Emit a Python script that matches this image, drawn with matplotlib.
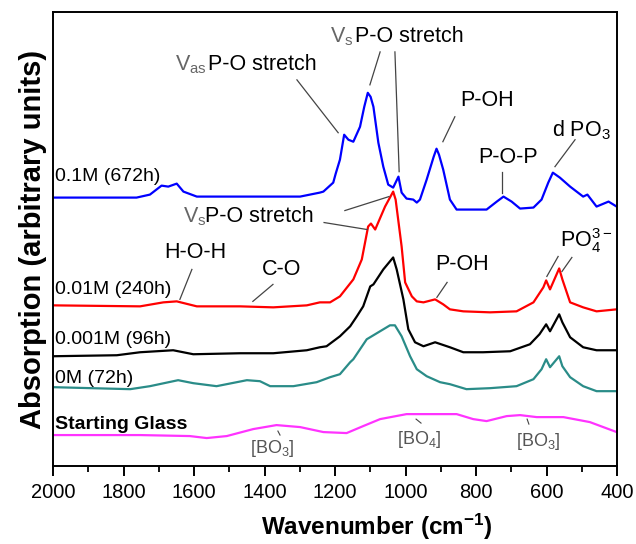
import numpy as np
import matplotlib
matplotlib.use('Agg')
import matplotlib.pyplot as plt
from matplotlib.ticker import MultipleLocator

plt.rcParams['font.family'] = ['Liberation Sans', 'DejaVu Sans']
plt.rcParams['mathtext.fontset'] = 'custom'
plt.rcParams['mathtext.rm'] = 'Liberation Sans'
plt.rcParams['mathtext.it'] = 'Liberation Sans:italic'
plt.rcParams['mathtext.bf'] = 'Liberation Sans:bold'

# spectra: wavenumber (cm-1) and absorption (arbitrary units, stacked)
wn_blue = [2000, 1763, 1725, 1692, 1673, 1649, 1630, 1592, 1469, 1413, 1299, 1243, 1233, 1205, 1198,
           1186, 1174, 1162, 1148, 1129, 1117, 1107, 1099, 1091, 1077, 1063, 1049, 1035, 1020, 1011,
           997, 978, 968, 959, 940, 920, 912, 905, 893, 874, 855, 770, 741, 722, 699, 675, 637, 614,
           595, 582, 562, 533, 496, 484, 458, 424, 401]
ab_blue = [269, 269, 272, 281, 280, 283, 275, 270, 270, 270, 270, 274, 275, 284, 293,
           307, 332, 327, 325, 340, 360, 374, 370, 360, 324, 300, 282, 279, 290, 274,
           268, 267, 264, 267, 287, 310, 318, 312, 297, 267, 257, 257, 265, 270, 265, 258, 259, 267,
           284, 294, 289, 280, 270, 272, 260, 265, 260]

wn_red = [2000, 1753, 1687, 1649, 1592, 1469, 1375, 1280, 1243, 1214, 1186, 1148, 1124, 1106, 1098,
          1086, 1058, 1035, 1028, 1011, 1001, 982, 968, 949, 916, 893, 874, 836, 760, 685, 637,
          609, 601, 590, 564, 555, 533, 496, 458, 401]
ab_red = [161, 160, 164, 165, 160, 160, 159, 161, 164, 164, 170, 187, 207, 240, 243,
          237, 260, 275, 267, 220, 184, 170, 165, 164, 167, 162, 157, 155, 154, 155, 164,
          179, 186, 177, 198, 187, 164, 159, 155, 157]

wn_black = [2000, 1819, 1753, 1659, 1602, 1469, 1375, 1280, 1243, 1224, 1186, 1157, 1138, 1120,
            1100, 1091, 1063, 1035, 1025, 1006, 992, 973, 949, 916, 874, 836, 780, 703, 647, 620,
            601, 590, 564, 555, 533, 496, 458, 401]
ab_black = [110, 111, 114, 116, 112, 113, 113, 116, 119, 120, 130, 140, 150, 160,
            180, 182, 197, 209, 197, 167, 137, 124, 120, 124, 119, 114, 114, 115, 122, 132,
            142, 135, 152, 144, 129, 119, 116, 116]

wn_teal = [2000, 1781, 1725, 1645, 1602, 1536, 1450, 1413, 1384, 1318, 1252, 1214, 1186, 1157,
           1148, 1110, 1077, 1044, 1030, 1011, 987, 968, 940, 902, 874, 827, 760, 685, 637, 614,
           601, 590, 564, 555, 533, 496, 458, 401]
ab_teal = [79, 77, 80, 86, 83, 80, 86, 85, 80, 80, 84, 89, 92, 104,
           107, 127, 134, 141, 141, 130, 110, 97, 90, 84, 82, 77, 78, 80, 87, 97,
           107, 99, 110, 100, 89, 80, 75, 75]

wn_glass = [2000, 1753, 1612, 1564, 1507, 1432, 1366, 1299, 1233, 1167, 1120, 1072, 997, 855,
            808, 770, 713, 675, 628, 552, 477, 401]
ab_glass = [31, 31, 30, 28, 30, 37, 41, 39, 34, 33, 40, 47, 52, 52,
            47, 45, 50, 51, 49, 49, 44, 34]

labels = ['0.1M (672h)', '0.01M (240h)', '0.001M (96h)', '0M (72h)', 'Starting Glass']
label_y = [290, 177, 127, 88, 42]
colors = ['#0000ff', '#ff0000', '#000000', '#2a8c88', '#ff33ff']

fig = plt.figure(figsize=(6.36, 5.44), dpi=100)
ax = fig.add_axes([53/636, 78/544, 564/636, 454/544])

series = [(wn_blue, ab_blue), (wn_red, ab_red), (wn_black, ab_black),
          (wn_teal, ab_teal), (wn_glass, ab_glass)]
for (x, y), c in zip(series, colors):
    ax.plot(x, y, color=c, lw=1.6)

for i, (t, yy) in enumerate(zip(labels, label_y)):
    ax.text(1994, yy, t, fontsize=14, fontweight='normal' if i < 4 else 'bold',
            ha='left', va='center')

lc = '#444444'
def line(x0, y0, x1, y1, lw=0.9):
    ax.plot([x0, x1], [y0, y1], color=lc, lw=lw)

fs = 15.5
# blue annotations
ax.text(1654, 402, r'$\mathrm{V_{as}}$', fontsize=fs, color='#666666', ha='left', va='center')
ax.text(1560, 402, 'P-O stretch', fontsize=fs, ha='left', va='center')
line(1308, 387, 1191, 334)
ax.text(1214, 430, r'$\mathrm{V_{s}}$', fontsize=fs, color='#666666', ha='left', va='center')
ax.text(1143, 430, 'P-O stretch', fontsize=fs, ha='left', va='center')
line(1072, 415, 1101, 382)
line(1030, 415, 1018, 295)
ax.text(769, 366, 'P-OH', fontsize=fs, ha='center', va='center')
line(860, 350, 894, 325)
ax.text(584, 337, r'd PO$_\mathrm{3}$', fontsize=fs, ha='left', va='center')
line(519, 327, 576, 300)
ax.text(709, 309, 'P-O-P', fontsize=fs, ha='center', va='center')
line(726, 295, 726, 274)

# red annotations
ax.text(1631, 250, r'$\mathrm{V_{s}}$', fontsize=fs, color='#666666', ha='left', va='center')
ax.text(1569, 250, 'P-O stretch', fontsize=fs, ha='left', va='center')
line(1172, 256, 1047, 270)
line(1231, 244, 1109, 237)
ax.text(1597, 214, 'H-O-H', fontsize=fs, ha='center', va='center')
line(1606, 197, 1640, 167)
ax.text(1353, 197, 'C-O', fontsize=fs, ha='center', va='center')
line(1376, 182, 1433, 165)
ax.text(840, 202, 'P-OH', fontsize=fs, ha='center', va='center')
line(882, 184, 911, 169)
ax.text(562, 226, r'PO$_\mathrm{4}^\mathrm{3-}$', fontsize=fs, ha='left', va='center')
line(567, 210, 599, 190)
line(528, 209, 556, 195)

# starting glass annotations
gc = '#555555'
ax.text(1379, 18, r'[BO$_\mathrm{3}$]', fontsize=13, color=gc, ha='center', va='center')
line(1362, 35, 1356, 31, lw=0.8)
ax.text(962, 27, r'[BO$_\mathrm{4}$]', fontsize=13, color=gc, ha='center', va='center')
line(970, 47, 956, 43, lw=0.8)
ax.text(624, 25, r'[BO$_\mathrm{3}$]', fontsize=13, color=gc, ha='center', va='center')
line(655, 47, 650, 42, lw=0.8)

ax.set_xlim(2000, 400)
ax.set_ylim(0, 455)
ax.xaxis.set_major_locator(MultipleLocator(200))
ax.xaxis.set_minor_locator(MultipleLocator(100))
ax.tick_params(axis='x', which='major', direction='out', top=False, length=7, width=1.4,
               labelsize=14.5, pad=5)
ax.tick_params(axis='x', which='minor', direction='out', top=False, length=4, width=1.3)
ax.tick_params(axis='y', left=False, labelleft=False)
for s in ax.spines.values():
    s.set_linewidth(1.4)

ax.set_xlabel(r'Wavenumber (cm$^{\mathbf{-1}}$)', fontsize=17.5, fontweight='bold')
ax.xaxis.set_label_coords((377 - 53) / 564, -0.135)
ax.xaxis.label.set_va('center')
ax.set_ylabel('Absorption (arbitrary units)', fontsize=21, fontweight='bold', labelpad=4)

fig.savefig('out.png', dpi=100)
